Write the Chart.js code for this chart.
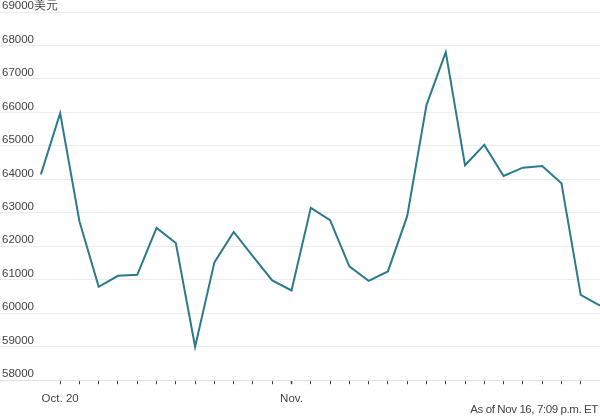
<!DOCTYPE html>
<html lang="zh">
<head>
  <meta charset="UTF-8">
  <title>Bitcoin price</title>
  <script src="https://cdn.jsdelivr.net/npm/chart.js"></script>
  <style>
    html, body { margin: 0; padding: 0; background: #fff; }
    .wrap { position: relative; width: 600px; height: 420px; }
    .note {
      position: absolute; right: 2px; top: 403px;
      font: 11.5px "Liberation Sans", Arial, sans-serif; color: #444;
      letter-spacing: -0.4px;
    }
  </style>
</head>
<body>
  <div class="wrap">
    <canvas id="chart" width="600" height="420"></canvas>
    <div class="note">As of Nov 16, 7:09 p.m. ET</div>
  </div>

  <script>
    // daily points, Oct 19 .. Nov 17
    const days = ['Oct 19', 'Oct 20', 'Oct 21', 'Oct 22', 'Oct 23', 'Oct 24', 'Oct 25', 'Oct 26',
      'Oct 27', 'Oct 28', 'Oct 29', 'Oct 30', 'Oct 31', 'Nov 1', 'Nov 2', 'Nov 3', 'Nov 4',
      'Nov 5', 'Nov 6', 'Nov 7', 'Nov 8', 'Nov 9', 'Nov 10', 'Nov 11', 'Nov 12', 'Nov 13',
      'Nov 14', 'Nov 15', 'Nov 16', 'Nov 17'];
    const prices = [64150, 65980, 62750, 60790, 61120, 61150, 62550, 62100, 59000, 61520,
      62430, 61700, 60980, 60680, 63150, 62780, 61400, 60970, 61250, 62900,
      66220, 67800, 64420, 65030, 64100, 64350, 64400, 63880, 60550, 60230];

    // x tick labels (by day index) and y axis range
    const xTickLabels = { 1: 'Oct. 20', 13: 'Nov.' };
    const yTicks = [58000, 59000, 60000, 61000, 62000, 63000, 64000, 65000, 66000, 67000, 68000, 69000];
    const yUnit = '美元';

    const points = prices.map((p, i) => ({ x: i, y: p }));
    const font = { family: '"Liberation Sans", Arial, sans-serif', size: 11.5 };

    new Chart(document.getElementById('chart').getContext('2d'), {
      type: 'line',
      data: {
        datasets: [{
          label: days.join(','),
          data: points,
          borderColor: '#2b7a8e',
          borderWidth: 2,
          pointRadius: 0,
          tension: 0,
          fill: false
        }]
      },
      options: {
        responsive: false,
        animation: false,
        layout: { padding: { top: 12, bottom: 6, left: 0, right: 0 } },
        plugins: { legend: { display: false }, tooltip: { enabled: false } },
        scales: {
          x: {
            type: 'linear',
            min: -2.12,
            max: 29,
            afterBuildTicks: (scale) => {
              const t = [];
              for (let i = 1; i <= 28; i++) t.push({ value: i });
              scale.ticks = t;
            },
            grid: {
              drawOnChartArea: false,
              tickLength: 4,
              tickColor: '#444',
              tickWidth: (ctx) => (ctx.tick && ctx.tick.value === 13 ? 1.5 : 1)
            },
            border: { display: true, color: '#e2e2e2' },
            ticks: {
              autoSkip: false,
              maxRotation: 0,
              padding: 8,
              color: '#444',
              font: font,
              callback: (v) => xTickLabels[v] || ''
            }
          },
          y: {
            min: yTicks[0],
            max: yTicks[yTicks.length - 1],
            afterBuildTicks: (scale) => {
              scale.ticks = yTicks.map(v => ({ value: v }));
            },
            afterFit: (scale) => { scale.width = 0; },
            grid: { color: '#ececec', drawTicks: false },
            border: { display: false },
            ticks: {
              mirror: true,
              padding: 2,
              labelOffset: -6,
              color: '#444',
              font: font,
              callback: (v) => v === yTicks[yTicks.length - 1] ? v + yUnit : String(v)
            }
          }
        }
      }
    });
  </script>
</body>
</html>
